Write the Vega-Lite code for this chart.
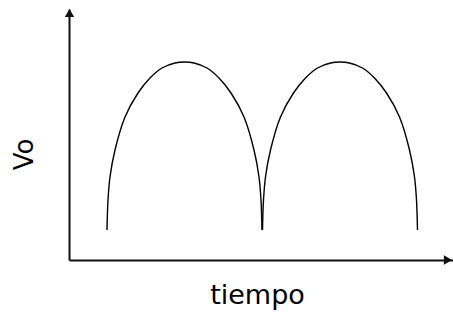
{
  "$schema": "https://vega.github.io/schema/vega-lite/v6.json",
  "width": 384,
  "height": 251,
  "autosize": {"type": "none"},
  "padding": {"left": 69, "top": 9, "right": 0, "bottom": 60},
  "background": "white",
  "config": {"view": {"stroke": null}},
  "datasets": {
    "curva": [
      {"arco": 1, "t": 38, "v": 30}, {"arco": 1, "t": 39, "v": 60}, {"arco": 1, "t": 41, "v": 83},
      {"arco": 1, "t": 46, "v": 110}, {"arco": 1, "t": 56, "v": 143}, {"arco": 1, "t": 69, "v": 167},
      {"arco": 1, "t": 81, "v": 182}, {"arco": 1, "t": 93, "v": 192}, {"arco": 1, "t": 106, "v": 197},
      {"arco": 1, "t": 115.5, "v": 198}, {"arco": 1, "t": 125, "v": 197}, {"arco": 1, "t": 138, "v": 192},
      {"arco": 1, "t": 150, "v": 182}, {"arco": 1, "t": 162, "v": 167}, {"arco": 1, "t": 175, "v": 143},
      {"arco": 1, "t": 185, "v": 110}, {"arco": 1, "t": 190, "v": 83}, {"arco": 1, "t": 192, "v": 60},
      {"arco": 1, "t": 193, "v": 30},
      {"arco": 2, "t": 193.5, "v": 30}, {"arco": 2, "t": 194.5, "v": 60}, {"arco": 2, "t": 196.5, "v": 83},
      {"arco": 2, "t": 201.5, "v": 110}, {"arco": 2, "t": 211.5, "v": 143}, {"arco": 2, "t": 224.5, "v": 167},
      {"arco": 2, "t": 236.5, "v": 182}, {"arco": 2, "t": 248.5, "v": 192}, {"arco": 2, "t": 261.5, "v": 197},
      {"arco": 2, "t": 271, "v": 198}, {"arco": 2, "t": 280.5, "v": 197}, {"arco": 2, "t": 293.5, "v": 192},
      {"arco": 2, "t": 305.5, "v": 182}, {"arco": 2, "t": 317.5, "v": 167}, {"arco": 2, "t": 330.5, "v": 143},
      {"arco": 2, "t": 340.5, "v": 110}, {"arco": 2, "t": 345.5, "v": 83}, {"arco": 2, "t": 347.5, "v": 60},
      {"arco": 2, "t": 348.5, "v": 30}
    ],
    "flechas": [
      {"t": 0.5, "v": 247, "forma": "triangle-up"},
      {"t": 379, "v": 0, "forma": "triangle-right"}
    ]
  },
  "layer": [
    {
      "data": {"name": "curva"},
      "mark": {"type": "line", "color": "black", "strokeWidth": 1.4, "interpolate": "catmull-rom"},
      "encoding": {
        "x": {
          "field": "t", "type": "quantitative",
          "scale": {"domain": [0, 384], "nice": false, "zero": false},
          "axis": {
            "title": "tiempo", "domain": true, "domainColor": "#111", "domainWidth": 2,
            "ticks": false, "labels": false, "grid": false,
            "titleFont": "DejaVu Sans", "titleFontSize": 27, "titleFontWeight": "normal",
            "titleColor": "black", "titlePadding": 22, "titleX": 188
          }
        },
        "y": {
          "field": "v", "type": "quantitative",
          "scale": {"domain": [0, 251], "nice": false, "zero": false},
          "axis": {
            "title": "Vo", "domain": true, "domainColor": "#111", "domainWidth": 2,
            "ticks": false, "labels": false, "grid": false,
            "titleFont": "DejaVu Sans", "titleFontSize": 26, "titleFontWeight": "normal",
            "titleColor": "black", "titleAngle": -90, "titleX": -45, "titleY": 145,
            "titleAlign": "center", "titleBaseline": "middle"
          }
        },
        "detail": {"field": "arco", "type": "nominal"}
      }
    },
    {
      "data": {"name": "flechas"},
      "mark": {"type": "point", "filled": true, "color": "#111", "size": 90, "opacity": 1, "clip": false},
      "encoding": {
        "x": {"field": "t", "type": "quantitative"},
        "y": {"field": "v", "type": "quantitative"},
        "shape": {"field": "forma", "type": "nominal", "scale": null}
      }
    }
  ]
}
